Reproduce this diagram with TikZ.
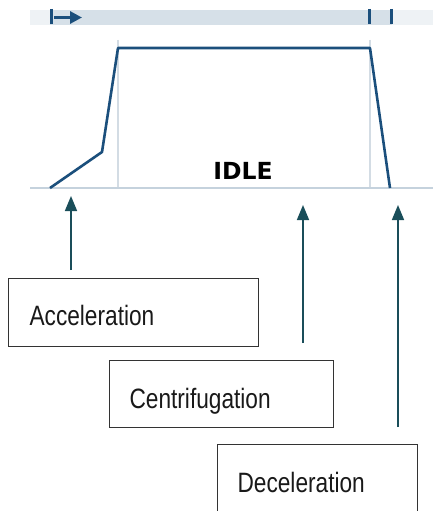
\documentclass[tikz,border=0pt]{standalone}
\usepackage{fontspec}
\setmainfont{Liberation Sans}
\newfontfamily\boxfont[FakeStretch=0.81]{Liberation Sans}
\newfontfamily\idlefont{DejaVu Sans}
\usetikzlibrary{arrows.meta}
\definecolor{barlight}{HTML}{EEF2F5}
\definecolor{bardark}{HTML}{D6E0E8}
\definecolor{profile}{HTML}{1B4F7C}
\definecolor{grid}{HTML}{D3DCE4}
\definecolor{base}{HTML}{C5D2DD}
\definecolor{teal}{HTML}{1A4E5A}
\tikzset{
  labelbox/.style={draw=black!80, line width=0.9pt, rectangle, anchor=north west, inner sep=0pt},
  boxtext/.style={anchor=base west, font=\boxfont\fontsize{28}{30}\selectfont, text=black!90},
  pointer/.style={draw=teal, line width=1.6pt, -{Triangle[length=15pt,width=12pt]}},
  tick/.style={draw=profile, line width=3pt},
}
\begin{document}
\begin{tikzpicture}[x=1pt,y=-1pt]
\useasboundingbox (0,0) rectangle (433,511);
% top bar
\fill[barlight] (30,10) rectangle (433,25);
\fill[bardark] (50,10) rectangle (392,25);
\coordinate (t1a) at (51,9); \coordinate (t1b) at (51,24);
\coordinate (t2a) at (369,9); \coordinate (t2b) at (369,24);
\coordinate (t3a) at (391,9); \coordinate (t3b) at (391,24);
\draw[tick] (t1a) -- (t1b);
\draw[tick] (t2a) -- (t2b);
\draw[tick] (t3a) -- (t3b);
\coordinate (ar1) at (54,17.5); \coordinate (ar2) at (82,17.5);
\draw[draw=profile, line width=3pt, -{Triangle[length=12pt,width=12pt]}] (ar1) -- (ar2);
% grid lines
\coordinate (g1a) at (118,40); \coordinate (g1b) at (118,188);
\coordinate (g2a) at (370,40); \coordinate (g2b) at (370,188);
\draw[grid, line width=1.5pt] (g1a) -- (g1b);
\draw[grid, line width=1.5pt] (g2a) -- (g2b);
% baseline
\coordinate (b1) at (30,188); \coordinate (b2) at (433,188);
\draw[base, line width=2.5pt] (b1) -- (b2);
% profile
\coordinate (p0) at (50,188);
\coordinate (p1) at (102,152);
\coordinate (p2) at (118,48);
\coordinate (p3) at (370,48);
\coordinate (p4) at (390,188);
\draw[profile, line width=2.6pt, line join=round] (p0) -- (p1) -- (p2) -- (p3) -- (p4);
% IDLE
\node[font=\idlefont\bfseries\fontsize{23.5}{26}\selectfont, text=black, anchor=base] (idle) at (243,179) {IDLE};
% boxes
\node[labelbox, minimum width=250pt, minimum height=68pt] (acc) at (8,278) {};
\node[boxtext] (acct) at (26,325) {Acceleration};
\node[labelbox, minimum width=224pt, minimum height=67pt] (cen) at (109,360) {};
\node[boxtext] (cent) at (126,408) {Centrifugation};
\node[labelbox, minimum width=200pt, minimum height=80pt] (dec) at (217,444) {};
\node[boxtext] (dect) at (234,492) {Deceleration};
% arrows
\coordinate (a1s) at (71,270); \coordinate (a1e) at (71,196);
\coordinate (a2s) at (303,343); \coordinate (a2e) at (303,205);
\coordinate (a3s) at (398,427); \coordinate (a3e) at (398,205);
\draw[pointer] (a1s) -- (a1e);
\draw[pointer] (a2s) -- (a2e);
\draw[pointer] (a3s) -- (a3e);
\end{tikzpicture}
\end{document}
